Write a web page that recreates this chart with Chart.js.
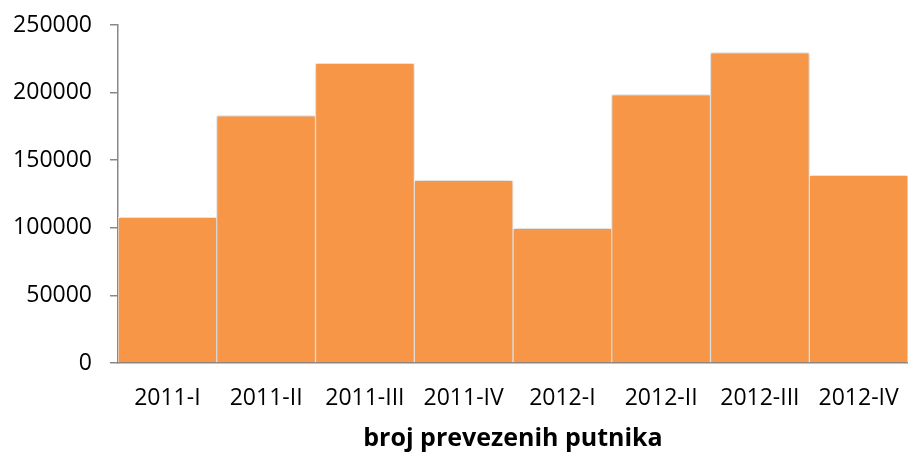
<!DOCTYPE html>
<html>
<head>
<meta charset="utf-8">
<script src="https://cdn.jsdelivr.net/npm/chart.js@4/dist/chart.umd.min.js"></script>
<style>
  html, body { margin: 0; padding: 0; background: #fff; }
  #wrap { width: 908px; height: 457px; position: relative; }
</style>
</head>
<body>
<div id="wrap"><canvas id="c" width="908" height="457"></canvas></div>
<script>
const categories = ["2011-I", "2011-II", "2011-III", "2011-IV", "2012-I", "2012-II", "2012-III", "2012-IV"];
const passengers = [107800, 182900, 221600, 135100, 99600, 198400, 229500, 138800];
const yTicks = [0, 50000, 100000, 150000, 200000, 250000];
const axisTitle = "broj prevezenih putnika";

const FONT = "'Open Sans', 'Liberation Sans', sans-serif";

const shadowPlugin = {
  id: 'barShadow',
  beforeDatasetsDraw(chart) {
    const ctx = chart.ctx;
    ctx.save();
    ctx.shadowColor = 'rgba(0,0,0,0.28)';
    ctx.shadowBlur = 4;
    ctx.shadowOffsetX = 0;
    ctx.shadowOffsetY = 0;
  },
  afterDatasetsDraw(chart) {
    chart.ctx.restore();
  }
};

new Chart(document.getElementById('c'), {
  type: 'bar',
  data: {
    labels: categories,
    datasets: [{
      data: passengers,
      backgroundColor: '#F79646',
      borderColor: '#ffffff',
      borderWidth: 1,
      borderSkipped: 'start',
      barPercentage: 1.0,
      categoryPercentage: 1.0
    }]
  },
  options: {
    responsive: false,
    animation: false,
    devicePixelRatio: 1,
    layout: { padding: { top: 25, left: 0, right: 0, bottom: 0 } },
    plugins: {
      legend: { display: false },
      tooltip: { enabled: false },
      title: { display: false }
    },
    scales: {
      x: {
        grid: { display: false },
        border: { display: true, color: '#888888', width: 1.5 },
        ticks: {
          color: '#000',
          font: { family: FONT, size: 23 },
          padding: 14,
          maxRotation: 0,
          autoSkip: false
        },
        title: {
          display: true,
          text: axisTitle,
          color: '#000',
          font: { family: FONT, size: 25, weight: 'bold' },
          padding: { top: 0, bottom: 3 }
        },
        afterFit(scale) {
          scale.height = 94;
          scale.paddingLeft = 0;
          scale.paddingRight = 0;
        }
      },
      y: {
        min: 0,
        max: 250000,
        afterBuildTicks(scale) { scale.ticks = yTicks.map(v => ({ value: v })); },
        grid: {
          drawOnChartArea: false,
          drawTicks: true,
          tickLength: 8,
          color: '#888888',
          lineWidth: 1.5
        },
        border: { display: true, color: '#888888', width: 1.5 },
        ticks: {
          color: '#000',
          font: { family: FONT, size: 23 },
          padding: 18,
          callback: (v) => String(v)
        },
        afterFit(scale) {
          scale.width = 118;
          scale.paddingTop = 0;
          scale.paddingBottom = 0;
        }
      }
    }
  },
  plugins: [shadowPlugin]
});
</script>
</body>
</html>
